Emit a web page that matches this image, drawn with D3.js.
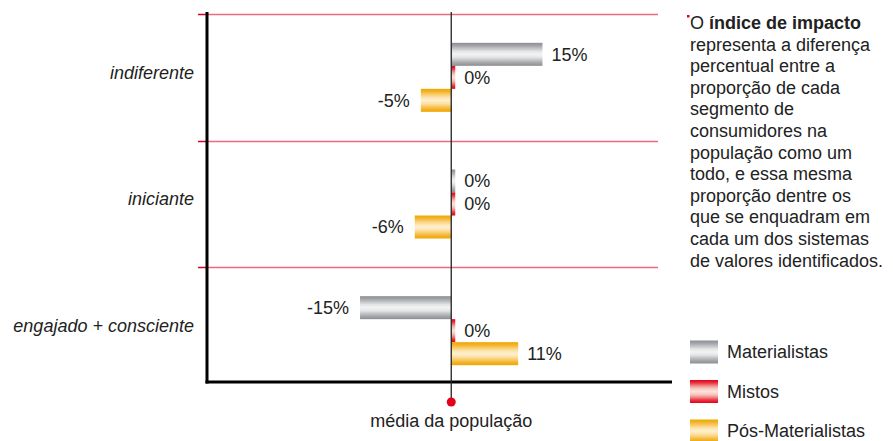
<!DOCTYPE html>
<html><head><meta charset="utf-8">
<script src="https://cdn.jsdelivr.net/npm/d3@7"></script>
<style>
html,body{margin:0;padding:0;background:#fff;}
svg{display:block;font-family:"Liberation Sans",Arial,sans-serif;}
</style></head>
<body><svg id="c" width="893" height="441"></svg>
<script>
const categories = ["indiferente", "iniciante", "engajado + consciente"];
const seriesNames = ["Materialistas", "Mistos", "Pós-Materialistas"];
const materialistas = [15, 0, -15];
const mistos = [0, 0, 0];
const posMaterialistas = [-5, -6, 11];
const axisLabel = "média da população";
const noteLines = [
  [["O ", false], ["índice de impacto", true]],
  [["representa a diferença", false]],
  [["percentual entre a", false]],
  [["proporção de cada", false]],
  [["segmento de", false]],
  [["consumidores na", false]],
  [["população como um", false]],
  [["todo, e essa mesma", false]],
  [["proporção dentre os", false]],
  [["que se enquadram em", false]],
  [["cada um dos sistemas", false]],
  [["de valores identificados.", false]]
];

const seriesValues = [materialistas, mistos, posMaterialistas];
const gradIds = ["gGray", "gRed", "gOrange"];
const gradStops = [
  ["#8c8e91", "#a3a5a8", "#c3c5c8", "#e4e6e7", "#f2f3f3", "#e4e6e7", "#c3c5c8", "#a3a5a8", "#8c8e91"],
  ["#e2001a", "#e8333f", "#f08a88", "#f8c9c2", "#fbe3dc", "#f8c9c2", "#f08a88", "#e8333f", "#e2001a"],
  ["#f0a500", "#f3b42a", "#f8cd6e", "#fde3ac", "#fff0d0", "#fde3ac", "#f8cd6e", "#f3b42a", "#f0a500"]
];

const svg = d3.select("#c");
const defs = svg.append("defs");
gradIds.forEach((id, i) => {
  const g = defs.append("linearGradient").attr("id", id)
    .attr("x1", 0).attr("y1", 0).attr("x2", 0).attr("y2", 1);
  const n = gradStops[i].length;
  gradStops[i].forEach((c, j) => g.append("stop").attr("offset", j / (n - 1)).attr("stop-color", c));
});

const x = d3.scaleLinear().domain([-40, 34]).range([208, 658]);
const y = d3.scaleBand().domain(categories).range([14, 394]);
const yInner = d3.scaleBand().domain(seriesNames).range([-34.5, 34.5]);
const x0 = x(0);
const axisBottomY = 382;

// separator lines
const sep = svg.append("g");
categories.forEach(c => {
  const yy = Math.round(y(c)) + 0.5;
  sep.append("line").attr("x1", 198).attr("x2", 208).attr("y1", yy).attr("y2", yy)
    .attr("stroke", "#d4002a").attr("stroke-width", 1.5);
  sep.append("line").attr("x1", 208).attr("x2", x.range()[1]).attr("y1", yy).attr("y2", yy)
    .attr("stroke", "#ec6a80").attr("stroke-width", 1.5);
});

// bars
const minW = 4;
const data = [];
categories.forEach((c, ci) => seriesNames.forEach((s, si) => data.push({c, s, si, v: seriesValues[si][ci]})));
const bars = svg.append("g");
bars.selectAll("rect").data(data).join("rect")
  .attr("x", d => d.v >= 0 ? x0 : x(d.v))
  .attr("width", d => Math.max(Math.abs(x(d.v) - x0), minW))
  .attr("y", d => y(d.c) + y.bandwidth() / 2 + yInner(d.s))
  .attr("height", yInner.bandwidth())
  .attr("fill", d => `url(#${gradIds[d.si]})`);

// value labels
svg.append("g").selectAll("text").data(data).join("text")
  .attr("x", d => d.v >= 0 ? Math.max(x(d.v), x0 + minW) + 9 : x(d.v) - 11)
  .attr("y", d => y(d.c) + y.bandwidth() / 2 + yInner(d.s) + yInner.bandwidth() / 2)
  .attr("dy", "0.36em")
  .attr("text-anchor", d => d.v >= 0 ? "start" : "end")
  .attr("font-size", 18).attr("fill", "#222")
  .text(d => d.v + "%");

// category labels
svg.append("g").selectAll("text").data(categories).join("text")
  .attr("x", 194)
  .attr("y", c => y(c) + y.bandwidth() / 2 - 5)
  .attr("dy", "0.36em")
  .attr("text-anchor", "end")
  .attr("font-size", 18).attr("font-style", "italic").attr("fill", "#222")
  .text(c => c);

// axes
svg.append("line").attr("x1", 207).attr("x2", 207).attr("y1", 12).attr("y2", axisBottomY + 1.5)
  .attr("stroke", "#000").attr("stroke-width", 3);
svg.append("line").attr("x1", 205.5).attr("x2", 672).attr("y1", axisBottomY).attr("y2", axisBottomY)
  .attr("stroke", "#000").attr("stroke-width", 3);

// zero line + marker
svg.append("line").attr("x1", x0).attr("x2", x0).attr("y1", 12).attr("y2", 402)
  .attr("stroke", "#222").attr("stroke-width", 1.3);
svg.append("circle").attr("cx", x0).attr("cy", 402).attr("r", 4.5).attr("fill", "#e2001a");
svg.append("text").attr("x", x0).attr("y", 427).attr("text-anchor", "middle")
  .attr("font-size", 18).attr("fill", "#222").text(axisLabel);

// note
const note = svg.append("text").attr("font-size", 18).attr("fill", "#222");
noteLines.forEach((line, i) => {
  line.forEach((part, k) => {
    const t = note.append("tspan").text(part[0]).attr("font-weight", part[1] ? "bold" : null);
    if (k === 0) t.attr("x", 690).attr("y", 29 + i * 21.6);
  });
});
svg.append("rect").attr("x", 687).attr("y", 15).attr("width", 2.5).attr("height", 2.5).attr("fill", "#e2001a");

// legend
const lg = svg.append("g");
seriesNames.forEach((s, i) => {
  const cy = 352 + i * 39.5;
  lg.append("rect").attr("x", 690).attr("y", cy - 11.5).attr("width", 28).attr("height", 23)
    .attr("fill", `url(#${gradIds[i]})`);
  lg.append("text").attr("x", 727).attr("y", cy).attr("dy", "0.36em")
    .attr("font-size", 18).attr("fill", "#222").text(s);
});
</script></body></html>
